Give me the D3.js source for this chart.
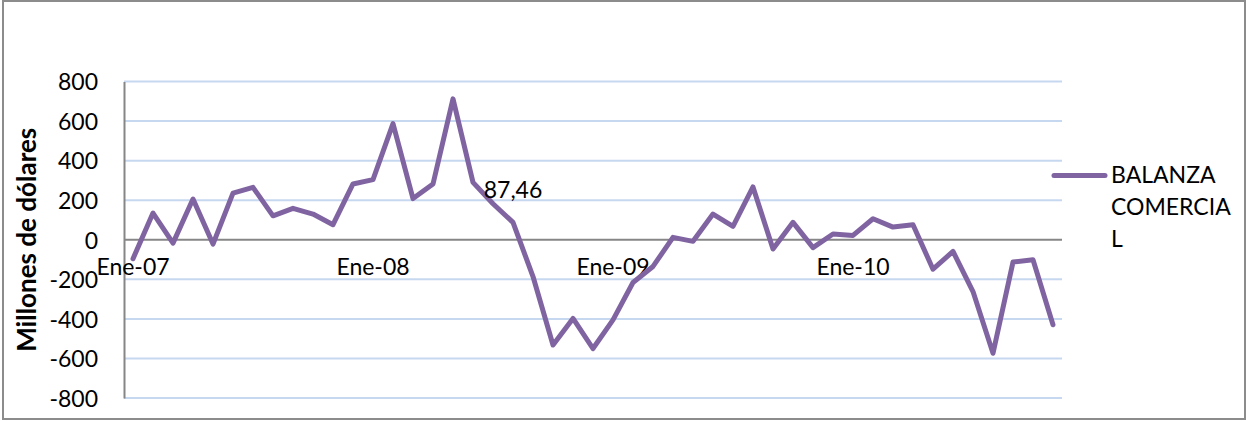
<!DOCTYPE html>
<html>
<head>
<meta charset="utf-8">
<script src="https://cdn.jsdelivr.net/npm/d3@7"></script>
<style>
  html, body { margin: 0; padding: 0; background: #fff; }
  svg { display: block; font-family: Lato, "Open Sans", sans-serif; }
</style>
</head>
<body>
<svg id="chart" width="1247" height="421"></svg>
<script>
// Balanza comercial mensual, enero 2007 - noviembre 2010 (millones de dólares)
const months = ["Ene", "Feb", "Mar", "Abr", "May", "Jun", "Jul", "Ago", "Sep", "Oct", "Nov", "Dic"];
const years = ["07", "08", "09", "10"];
const categories = [];
years.forEach(y => months.forEach(m => categories.push(m + "-" + y)));
categories.splice(47); // hasta Nov-10

const balanza = [
  -96, 135, -17, 206, -22, 236, 265, 121, 159, 130, 76, 282,
  304, 587, 208, 282, 712, 290, 182, 87.46, -186, -532, -398, -550,
  -405, -216, -135, 12, -8, 130, 68, 267, -47, 88, -40, 29,
  22, 106, 64, 76, -149, -59, -262, -574, -113, -101, -430
];

const yTicks = [-800, -600, -400, -200, 0, 200, 400, 600, 800];
const shownLabels = ["Ene-07", "Ene-08", "Ene-09", "Ene-10"];
const labelledPoint = { category: "Ago-08", text: "87,46" };
const seriesName = ["BALANZA", "COMERCIA", "L"];

const svg = d3.select("#chart");
const color = "#8064a2";
const font = "Lato, 'Open Sans', sans-serif";

// Marco exterior
svg.append("rect")
  .attr("x", 3).attr("y", 1).attr("width", 1242).attr("height", 418)
  .attr("fill", "#fff").attr("stroke", "#8c8c8c").attr("stroke-width", 2);

const plot = { left: 124, right: 1062, top: 81.5, bottom: 398 };

const x = d3.scaleBand()
  .domain(categories)
  .range([plot.left - 1, plot.right + 1])
  .paddingInner(0).paddingOuter(0);

const y = d3.scaleLinear()
  .domain([-800, 800])
  .range([plot.bottom, plot.top]);

const cx = c => x(c) + x.bandwidth() / 2;

// Líneas de cuadrícula
svg.append("g")
  .selectAll("line")
  .data(yTicks.filter(t => t !== 0))
  .join("line")
  .attr("x1", plot.left).attr("x2", plot.right)
  .attr("y1", d => y(d)).attr("y2", d => y(d))
  .attr("stroke", "#c6d8f0").attr("stroke-width", 2);

// Eje vertical con etiquetas (guion simple como signo negativo)
const yAxis = d3.axisLeft(y).tickValues(yTicks).tickSize(0).tickPadding(0).tickFormat(d => String(d));
const gy = svg.append("g").attr("transform", `translate(${plot.left},0)`).call(yAxis);
gy.select(".domain").attr("stroke", "#868686").attr("stroke-width", 2);
gy.selectAll("text")
  .attr("x", -26)
  .attr("dy", "0.36em")
  .attr("font-size", 23)
  .attr("font-family", font)
  .attr("fill", "#000");

// Eje horizontal en el cero
const xAxis = d3.axisBottom(x)
  .tickValues(shownLabels)
  .tickSize(0).tickPadding(0);
const gx = svg.append("g").attr("transform", `translate(0,${y(0)})`).call(xAxis);
gx.select(".domain").attr("d", `M${plot.left},0H${plot.right}`)
  .attr("stroke", "#868686").attr("stroke-width", 2);
gx.selectAll("text")
  .attr("y", 0)
  .attr("dy", "1.55em")
  .attr("font-size", 23)
  .attr("font-family", font)
  .attr("fill", "#000");

// Serie
const line = d3.line()
  .x((d, i) => cx(categories[i]))
  .y(d => y(d));

svg.append("path")
  .datum(balanza)
  .attr("d", line)
  .attr("fill", "none")
  .attr("stroke", color)
  .attr("stroke-width", 5)
  .attr("stroke-linejoin", "round")
  .attr("stroke-linecap", "round");

// Etiqueta de dato
const li = categories.indexOf(labelledPoint.category);
svg.append("text")
  .attr("x", cx(labelledPoint.category))
  .attr("y", y(balanza[li]) - 33)
  .attr("text-anchor", "middle")
  .attr("dy", "0.36em")
  .attr("font-size", 23)
  .attr("fill", "#000")
  .text(labelledPoint.text);

// Título del eje vertical
svg.append("text")
  .attr("transform", `translate(36,${y(0)}) rotate(-90)`)
  .attr("text-anchor", "middle")
  .attr("font-size", 26)
  .attr("font-weight", "bold")
  .attr("fill", "#000")
  .text("Millones de dólares");

// Leyenda
const lg = svg.append("g");
lg.append("line")
  .attr("x1", 1054).attr("x2", 1105)
  .attr("y1", 175.5).attr("y2", 175.5)
  .attr("stroke", color).attr("stroke-width", 5).attr("stroke-linecap", "round");
lg.selectAll("text")
  .data(seriesName)
  .join("text")
  .attr("x", 1111)
  .attr("y", (d, i) => 183 + i * 32)
  .attr("font-size", 23)
  .attr("fill", "#000")
  .text(d => d);
</script>
</body>
</html>
